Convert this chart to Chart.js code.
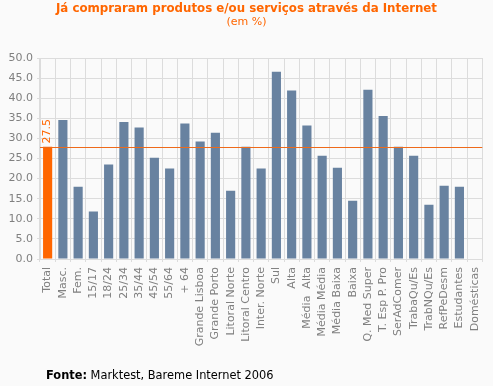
<!DOCTYPE html>
<html>
<head>
<meta charset="utf-8">
<script src="https://cdn.jsdelivr.net/npm/chart.js@4"></script>
<style>
  html, body { margin: 0; padding: 0; background: #fafafa; }
  #wrap { position: relative; width: 493px; height: 386px; font-family: "DejaVu Sans", Verdana, sans-serif; }
  #title { position: absolute; left: 0; top: 1px; width: 493px; text-align: center; color: #ff6600; font-size: 11.8px; font-weight: bold; line-height: 14px; }
  #sub { position: absolute; left: 0; top: 15px; width: 493px; text-align: center; color: #ff6600; font-size: 11px; line-height: 14px; }
  #fonte { position: absolute; left: 46px; top: 368px; font-size: 11.4px; line-height: 14px; color: #000; }
  canvas { position: absolute; left: 0; top: 0; }
</style>
</head>
<body>
<div id="wrap">
  <canvas id="chart" width="493" height="386"></canvas>
  <div id="title">Já compraram produtos e/ou serviços através da Internet</div>
  <div id="sub">(em %)</div>
  <div id="fonte"><b>Fonte:</b> Marktest, Bareme Internet 2006</div>
</div>
<script>
const categories = [
  "Total", "Masc.", "Fem.", "15/17", "18/24", "25/34", "35/44", "45/54", "55/64", "+ 64",
  "Grande Lisboa", "Grande Porto", "Litoral Norte", "Litoral Centro", "Inter. Norte", "Sul",
  "Alta", "Média  Alta", "Média Média", "Média Baixa", "Baixa", "Q. Med Super", "T. Esp P. Pro",
  "SerAdComer", "TrabaQu/Es", "TrabNQu/Es", "RefPeDesm", "Estudantes", "Domésticas",
];
const values = [
  27.9, 34.6, 18.0, 11.8, 23.5, 34.1, 32.7, 25.2, 22.5, 33.7,
  29.2, 31.4, 17.0, 27.9, 22.5, 46.6,
  41.9, 33.2, 25.7, 22.7, 14.5, 42.1, 35.6,
  27.9, 25.7, 13.5, 18.2, 18.0, null,
];
const totalLine = 27.9;
const totalLabel = "27.5";
const yTicks = [0, 5, 10, 15, 20, 25, 30, 35, 40, 45, 50];

const ORANGE = "#ff6600";
const BLUE = "#6882a0";
const GRID = "#dcdcdc";
const TEXT = "#808080";

const totalPlugin = {
  id: "totalLine",
  afterDatasetsDraw(chart) {
    const { ctx, chartArea, scales } = chart;
    const y = Math.round(scales.y.getPixelForValue(totalLine)) + 0.5;
    ctx.save();
    ctx.strokeStyle = "#ee6a1a";
    ctx.lineWidth = 1;
    ctx.beginPath();
    ctx.moveTo(chartArea.left, y);
    ctx.lineTo(chartArea.right, y);
    ctx.stroke();

    // etiqueta do total, vertical
    const x = scales.x.getPixelForValue(0);
    ctx.translate(x, y - 4);
    ctx.rotate(-Math.PI / 2);
    ctx.fillStyle = ORANGE;
    ctx.font = "11px 'DejaVu Sans'";
    ctx.textAlign = "left";
    ctx.textBaseline = "middle";
    ctx.fillText(totalLabel, 0, 0);
    ctx.restore();
  },
};

new Chart(document.getElementById("chart"), {
  type: "bar",
  data: {
    labels: categories,
    datasets: [{
      data: values,
      backgroundColor: values.map((v, i) => (i === 0 ? ORANGE : BLUE)),
      barPercentage: 0.6,
      categoryPercentage: 1,
    }],
  },
  options: {
    responsive: false,
    animation: false,
    layout: { padding: { top: 58, right: 8, left: 0, bottom: 0 } },
    plugins: { legend: { display: false }, tooltip: { enabled: false } },
    scales: {
      x: {
        grid: { color: GRID, tickLength: 3, offset: true },
        border: { color: GRID },
        ticks: {
          color: TEXT,
          font: { family: "'DejaVu Sans'", size: 11 },
          minRotation: 90,
          maxRotation: 90,
          autoSkip: false,
          padding: 5,
        },
        afterFit: (s) => { s.height = 127; },
      },
      y: {
        min: 0,
        max: 50,
        afterBuildTicks: (s) => { s.ticks = yTicks.map((v) => ({ value: v })); },
        grid: { color: GRID, tickLength: 3 },
        border: { color: GRID },
        ticks: {
          color: TEXT,
          font: { family: "'DejaVu Sans'", size: 11 },
          padding: 4,
          callback: (v) => v.toFixed(1),
        },
        afterFit: (s) => { s.width = 40; },
      },
    },
  },
  plugins: [totalPlugin],
});
</script>
</body>
</html>
